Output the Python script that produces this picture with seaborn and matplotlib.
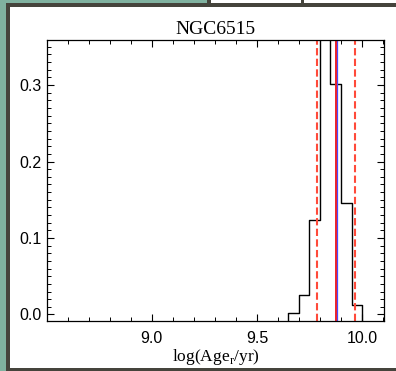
import numpy as np
import pandas as pd
import matplotlib
matplotlib.use("Agg")
import matplotlib.pyplot as plt
from matplotlib.patches import Rectangle
from matplotlib.ticker import MultipleLocator
import seaborn as sns

# ---- data ----
title = "NGC6515"
bin_edges = [9.65, 9.70, 9.75, 9.80, 9.85, 9.90, 9.95, 10.00]
bin_centers = [9.675, 9.725, 9.775, 9.825, 9.875, 9.925, 9.975]
fractions = [0.002, 0.026, 0.124, 0.389, 0.301, 0.146, 0.012]
age_best = 9.876
age_alt = 9.881
age_low = 9.786
age_high = 9.967
x_ticks = [9.0, 9.5, 10.0]
y_ticks = [0.0, 0.1, 0.2, 0.3]

df = pd.DataFrame({"logage": bin_centers, "frac": fractions})

sns.set_theme(style="white")
plt.rcParams["font.family"] = ["Liberation Sans", "DejaVu Sans"]
plt.rcParams["mathtext.fontset"] = "custom"
plt.rcParams["mathtext.rm"] = "Liberation Serif"

W, H = 396, 371
fig = plt.figure(figsize=(W / 100, H / 100), dpi=100, facecolor="white")

def px_rect(x0, y0, x1, y1, color):
    fig.patches.append(Rectangle((x0 / W, 1 - y1 / H), (x1 - x0) / W, (y1 - y0) / H,
                                 transform=fig.transFigure, color=color, zorder=0, lw=0))

green = "#80b2a0"
dark = "#45443c"
px_rect(0, 0, 6, H, green)
px_rect(0, 0, 207, 3, green)
px_rect(207, 0, 211, 3, dark)
px_rect(301, 0, 304, 3, dark)
px_rect(6, 3, W, 7, dark)
px_rect(6, 3, 10, H, dark)
px_rect(6, 368, W, H, dark)

ax = fig.add_axes([46.7 / W, 1 - 321 / H, (384.3 - 46.7) / W, (321 - 39.5) / H])
ax.set_facecolor("white")

ymin, ymax = -0.0085, 0.3595
sns.histplot(data=df, x="logage", weights="frac", bins=bin_edges, element="step",
             fill=False, color="black", linewidth=1.0, ax=ax)
# outer edges of the histogram drop to the bottom of the frame
ax.vlines([bin_edges[0], bin_edges[-1]], ymin, [fractions[0], fractions[-1]],
          color="black", lw=1.0)

ax.axvline(age_low, color="#ff4a3a", lw=1.5, ls=(0, (3.5, 1.6)))
ax.axvline(age_high, color="#ff4a3a", lw=1.5, ls=(0, (3.5, 1.6)))
ax.axvline(age_alt, color="#4a4aff", lw=0.9)
ax.axvline(age_best, color="#e8202c", lw=1.4)

ax.set_xlim(8.5, 10.106)
ax.set_ylim(ymin, ymax)
ax.set_xticks(x_ticks)
ax.set_xticklabels([f"{v:.1f}" for v in x_ticks])
ax.set_yticks(y_ticks)
ax.set_yticklabels([f"{v:.1f}" for v in y_ticks])
ax.xaxis.set_minor_locator(MultipleLocator(0.1))
ax.yaxis.set_minor_locator(MultipleLocator(0.01))
ax.tick_params(which="both", direction="in", top=True, right=True, bottom=True, left=True,
               color="black", labelsize=11.5, labelcolor="black")
ax.tick_params(which="major", length=5, width=0.8, pad=4)
ax.tick_params(axis="x", which="major", pad=7.5)
ax.tick_params(which="minor", length=2.6, width=0.7)
for s in ax.spines.values():
    s.set_color("black")
    s.set_linewidth(0.9)

ax.set_ylabel("")
ax.set_xlabel(r"log(Age$_{\rm r}$/yr)", family=["Liberation Serif"], fontsize=12.5,
              color="black", labelpad=0.5)
ax.set_title(title, family=["Liberation Serif"], fontsize=14, color="black", pad=4)

fig.savefig("out.png", dpi=100, facecolor="white")
